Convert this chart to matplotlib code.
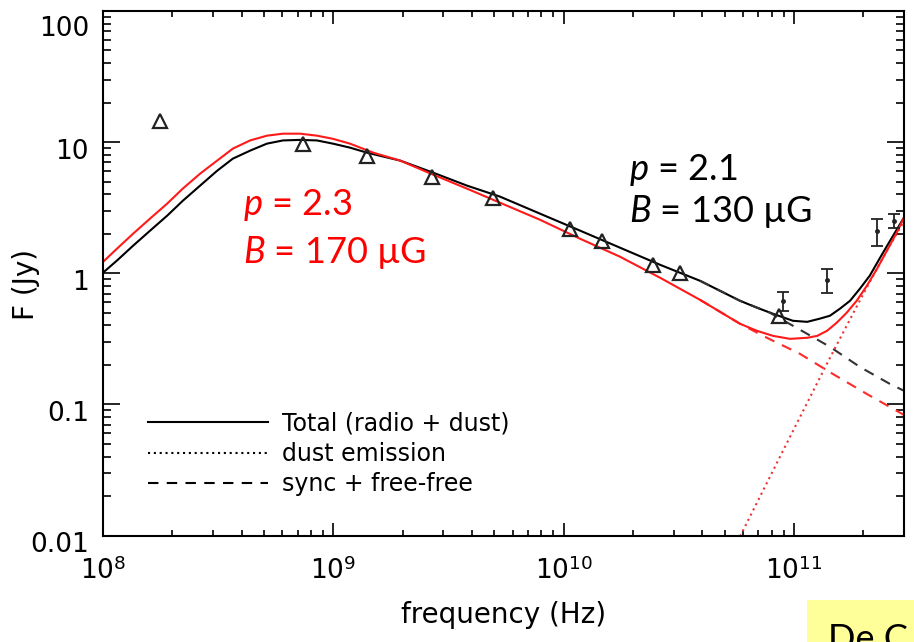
import math

import matplotlib
matplotlib.use("Agg")
import matplotlib.pyplot as plt
import matplotlib.transforms as mtransforms
from matplotlib.lines import Line2D
from matplotlib.patches import Rectangle
from matplotlib.ticker import LogLocator, NullFormatter, FuncFormatter

plt.rcParams["font.family"] = ["DejaVu Sans"]
plt.rcParams["mathtext.fontset"] = "custom"
plt.rcParams["mathtext.rm"] = "DejaVu Sans"
plt.rcParams["mathtext.it"] = "Lato:italic"

# measured fluxes (open triangles)
tri_freq = [1.77e8, 7.38e8, 1.40e9, 2.68e9, 4.93e9, 1.06e10, 1.47e10, 2.44e10, 3.19e10, 8.59e10]
tri_flux = [14.6, 9.74, 7.89, 5.46, 3.77, 2.19, 1.77, 1.16, 1.01, 0.474]

# mm-band points with error bars
mm_freq = [8.93e10, 1.39e11, 2.29e11, 2.71e11]
mm_flux = [0.617, 0.891, 2.11, 2.52]
mm_err = [0.10, 0.19, 0.50, 0.30]

# model p = 2.1, B = 130 uG (black)
tot21_freq = [1.0e8, 1.15e8, 1.35e8, 1.60e8, 1.90e8, 2.22e8, 2.64e8, 3.13e8, 3.66e8, 4.35e8,
              5.15e8, 6.04e8, 7.16e8, 8.49e8, 9.95e8, 1.18e9, 1.40e9, 1.95e9, 2.71e9,
              3.80e9, 5.29e9, 7.88e9, 1.18e10, 1.75e10, 2.62e10, 3.90e10, 5.82e10,
              6.90e10, 8.10e10, 9.88e10, 1.14e11, 1.29e11, 1.43e11, 1.58e11, 1.75e11,
              1.93e11, 2.13e11, 2.36e11, 2.61e11, 3.0e11]
tot21_flux = [1.01, 1.25, 1.62, 2.11, 2.75, 3.57, 4.66, 6.05, 7.48, 8.61,
              9.74, 10.3, 10.4, 10.3, 9.74, 9.08, 8.31, 7.23, 5.85,
              4.66, 3.84, 2.85, 2.11, 1.57, 1.16, 0.877, 0.617,
              0.546, 0.491, 0.434, 0.426, 0.450, 0.474, 0.536, 0.617,
              0.762, 0.957, 1.31, 1.77, 2.66]
syn21_freq = [3.90e10, 5.82e10, 7.85e10, 1.06e11, 1.43e11, 1.93e11, 2.61e11, 3.0e11]
syn21_flux = [0.877, 0.617, 0.500, 0.371, 0.275, 0.193, 0.143, 0.127]

# model p = 2.3, B = 170 uG (red)
tot23_freq = [1.0e8, 1.15e8, 1.35e8, 1.60e8, 1.90e8, 2.22e8, 2.64e8, 3.13e8, 3.66e8, 4.35e8,
              5.15e8, 6.04e8, 7.16e8, 8.49e8, 9.95e8, 1.18e9, 1.49e9, 1.95e9, 2.71e9,
              3.80e9, 5.29e9, 7.88e9, 1.18e10, 1.75e10, 2.62e10, 3.90e10, 5.82e10,
              6.90e10, 8.10e10, 9.60e10, 1.14e11, 1.26e11, 1.39e11, 1.53e11, 1.69e11,
              1.87e11, 2.07e11, 2.29e11, 2.53e11, 2.79e11, 3.0e11]
tot23_flux = [1.22, 1.54, 2.00, 2.61, 3.40, 4.42, 5.75, 7.23, 8.92, 10.3,
              11.2, 11.6, 11.6, 11.2, 10.6, 9.74, 8.31, 7.23, 5.65,
              4.42, 3.45, 2.56, 1.83, 1.34, 0.924, 0.628, 0.412,
              0.364, 0.333, 0.316, 0.322, 0.333, 0.364, 0.419, 0.499,
              0.617, 0.803, 1.08, 1.49, 2.04, 2.66]
syn23_freq = [3.90e10, 5.82e10, 7.62e10, 1.06e11, 1.47e11, 2.07e11, 3.0e11]
syn23_flux = [0.628, 0.412, 0.322, 0.243, 0.171, 0.120, 0.083]

# thermal dust component
dust_freq = [5.53e10, 9.31e10, 1.43e11, 1.93e11, 2.36e11, 3.0e11]
dust_flux = [0.0082, 0.0508, 0.226, 0.62, 1.2, 2.5]

fig = plt.figure(figsize=(9.14, 6.42), dpi=100)
ax = fig.add_axes([103 / 914, 106.5 / 642, 801 / 914, 524.5 / 642])
ax.set_xscale("log")
ax.set_yscale("log")
ax.set_xlim(1e8, 3e11)
ax.set_ylim(0.01, 100)

lw = 1.5
ax.plot(tot21_freq, tot21_flux, color="black", lw=lw)
ax.plot(syn21_freq, syn21_flux, color="#333333", lw=lw, dashes=(5, 4))
ax.plot(syn23_freq, syn23_flux, color="#ff2a2a", lw=lw, dashes=(5, 4))
ax.plot(dust_freq, dust_flux, color="#ee3333", lw=lw, ls=(0, (1, 1.8)))
ax.plot(tot23_freq, tot23_flux, color="#ff1a1a", lw=lw)

ax.plot(tri_freq, tri_flux, ls="none", marker="^", ms=9.5, mfc="none", mec="#222222", mew=1.6)
ax.errorbar(mm_freq, mm_flux, yerr=mm_err, fmt="o", ms=2.5, color="#222222",
            elinewidth=1.3, capsize=4, capthick=1.3)

# axis styling
for sp in ax.spines.values():
    sp.set_linewidth(1.5)
ax.xaxis.set_major_locator(LogLocator(base=10, numticks=10))
ax.xaxis.set_minor_locator(LogLocator(base=10, subs=range(2, 10), numticks=20))
ax.yaxis.set_major_locator(LogLocator(base=10, numticks=10))
ax.yaxis.set_minor_locator(LogLocator(base=10, subs=range(2, 10), numticks=20))
ax.xaxis.set_minor_formatter(NullFormatter())
ax.yaxis.set_minor_formatter(NullFormatter())
ax.xaxis.set_major_formatter(FuncFormatter(lambda v, p: r"$10^{%d}$" % round(math.log10(v))))
ax.yaxis.set_major_formatter(FuncFormatter(lambda v, p: "%g" % v))

ax.tick_params(axis="both", which="both", direction="in", top=True, right=True, width=1.2)
ax.tick_params(axis="y", which="major", length=12, pad=10, labelsize=19)
ax.tick_params(axis="y", which="minor", length=6)
ax.tick_params(axis="x", which="major", length=9.5, pad=16, labelsize=19)
ax.tick_params(axis="x", which="minor", length=4.5)

# labels sit a little below their ticks; the top one further still
for lab in ax.get_yticklabels():
    dy = -15 if lab.get_text() == "100" else -7
    lab.set_transform(lab.get_transform()
                      + mtransforms.ScaledTranslation(0, dy / 100, fig.dpi_scale_trans))

ax.set_xlabel("frequency (Hz)", fontsize=20, labelpad=12)
ax.set_ylabel("F (Jy)", fontsize=20)
ax.yaxis.set_label_coords(-0.079, 0.478)

handles = [
    Line2D([], [], color="black", lw=lw),
    Line2D([], [], color="black", lw=lw, ls=(0, (1, 1.8))),
    Line2D([], [], color="black", lw=lw, dashes=(5, 4)),
]
ax.legend(handles, ["Total (radio + dust)", "dust emission", "sync + free-free"],
          loc="upper left", bbox_to_anchor=(0.056, 0.236), frameon=False,
          fontsize=17, handlelength=5.1, handletextpad=0.6, labelspacing=0.26,
          borderpad=0, borderaxespad=0)

fam = ["Lato", "DejaVu Sans"]
ax.text(0.175, 0.611, "$p$ = 2.3", color="#ff0000", fontsize=26, family=fam,
        transform=ax.transAxes, va="baseline")
ax.text(0.175, 0.520, "$B$ = 170 \u00b5G", color="#ff0000", fontsize=26, family=fam,
        transform=ax.transAxes, va="baseline")
ax.text(0.657, 0.678, "$p$ = 2.1", color="black", fontsize=26, family=fam,
        transform=ax.transAxes, va="baseline")
ax.text(0.657, 0.598, "$B$ = 130 \u00b5G", color="black", fontsize=26, family=fam,
        transform=ax.transAxes, va="baseline")

# citation tag in the corner
fig.patches.append(Rectangle((807 / 914, 0), 0.2, 42 / 642, transform=fig.transFigure,
                             facecolor="#ffff99", edgecolor="none"))
fig.text(828 / 914, -8 / 642, "De C", fontsize=26, family=fam, va="baseline")

fig.savefig("out.png", dpi=100)
